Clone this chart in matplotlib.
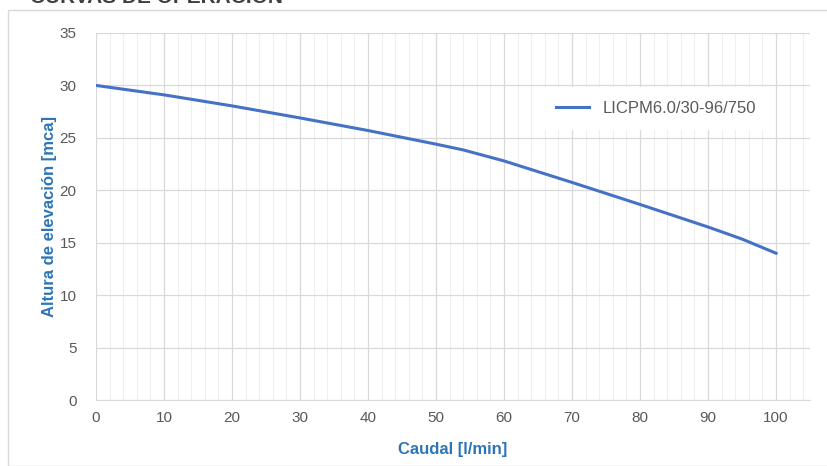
import matplotlib.pyplot as plt
from matplotlib.patches import Rectangle
import numpy as np

# curve data
caudal = [0, 10, 20, 30, 40, 50, 54, 60, 70, 80, 90, 95, 100]
altura = [30.0, 29.1, 28.05, 26.9, 25.7, 24.4, 23.85, 22.8, 20.75, 18.65, 16.5, 15.35, 14.0]
serie = 'LICPM6.0/30-96/750'

blue_line = '#4472C4'
blue_text = '#2E75B6'
grey_text = '#595959'

plt.rcParams['font.family'] = ['Liberation Sans', 'DejaVu Sans']

fig = plt.figure(figsize=(8.27, 4.66), dpi=100)
ax = fig.add_axes([96 / 827, 66 / 466, 714 / 827, 367 / 466])

# outer chart border
fig.patches.append(Rectangle((8 / 827, 0), 1, 456 / 466, transform=fig.transFigure,
                             fill=False, edgecolor='#d9d9d9', linewidth=1))
# title, mostly above the top edge of the picture
fig.text(30 / 827, 463 / 466, 'CURVAS DE OPERACIÓN', fontsize=15, fontweight='bold',
         color='#404040', va='baseline', ha='left')

ax.plot(caudal, altura, color=blue_line, linewidth=2.2, label=serie)

ax.set_xlim(0, 105)
ax.set_ylim(0, 35)
ax.set_xticks(np.arange(0, 101, 10))
ax.set_xticks(np.arange(0, 105, 2), minor=True)
ax.set_yticks(np.arange(0, 36, 5))

ax.grid(which='major', color='#d9d9d9', linewidth=0.9)
ax.grid(which='minor', axis='x', color='#eeeeee', linewidth=0.8)
ax.set_axisbelow(True)

for s in ['top', 'right', 'left']:
    ax.spines[s].set_visible(False)
ax.spines['bottom'].set_color('#d9d9d9')

ax.tick_params(which='both', length=0, colors=grey_text, labelsize=11, pad=8)
ax.tick_params(axis='y', pad=14)

ax.set_xlabel('Caudal [l/min]', color=blue_text, fontweight='bold', fontsize=12, labelpad=12)
ax.set_ylabel('Altura de elevación [mca]', color=blue_text, fontweight='bold', fontsize=12, labelpad=2)

ax.legend(loc='upper right', bbox_to_anchor=(0.955, 0.875), frameon=True, facecolor='white',
          edgecolor='white', framealpha=1, fontsize=12, handlelength=2.0,
          labelcolor=grey_text, borderpad=0.8)

fig.savefig('out.png', dpi=100)
